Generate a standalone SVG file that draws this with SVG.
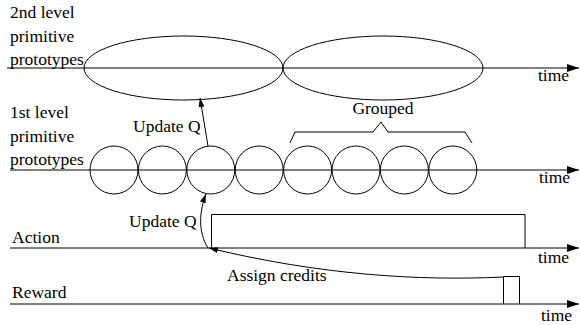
<svg xmlns="http://www.w3.org/2000/svg" width="580" height="325" viewBox="0 0 580 325">
<defs>
<marker id="axh" viewBox="0 0 12 8" refX="12" refY="4" markerWidth="12" markerHeight="8" markerUnits="userSpaceOnUse" orient="auto"><path d="M0,0 L12,4 L0,8 Z" fill="#000"/></marker>
<marker id="ah" viewBox="0 0 9 6" refX="9" refY="3" markerWidth="9" markerHeight="6" markerUnits="userSpaceOnUse" orient="auto"><path d="M0,0 L9,3 L0,6 Z" fill="#000"/></marker>
</defs>
<style>
text{font-family:"Liberation Serif","Times New Roman",serif;font-size:17.5px;fill:#000}
.ln{stroke:#000;stroke-width:1;fill:none}
.ax{stroke:#000;stroke-width:1;fill:none;marker-end:url(#axh)}
.ar{stroke:#000;stroke-width:1;fill:none;marker-end:url(#ah)}
</style>
<g id="axes">
<line class="ax" x1="7" y1="68" x2="579" y2="68"/>
<line class="ax" x1="10" y1="170" x2="579" y2="170"/>
<line class="ax" x1="10" y1="248" x2="579" y2="248"/>
<line class="ax" x1="10" y1="304" x2="579" y2="304"/>
<text x="538" y="81">time</text>
<text x="539" y="183">time</text>
<text x="538" y="263">time</text>
<text x="541" y="321">time</text>
</g>
<g id="labels">
<text x="10" y="18">2nd level</text>
<text x="10" y="42">primitive</text>
<text x="10" y="65">prototypes</text>
<text x="10" y="118">1st level</text>
<text x="10" y="142">primitive</text>
<text x="10" y="165">prototypes</text>
<text x="12" y="243">Action</text>
<text x="12" y="298">Reward</text>
</g>
<g id="level2">
<ellipse class="ln" cx="183.5" cy="68" rx="99.5" ry="32"/>
<ellipse class="ln" cx="383" cy="68" rx="100" ry="32"/>
</g>
<g id="level1">
<circle class="ln" cx="114" cy="170" r="24"/>
<circle class="ln" cx="162.4" cy="170" r="24"/>
<circle class="ln" cx="210.8" cy="170" r="24"/>
<circle class="ln" cx="259.2" cy="170" r="24"/>
<circle class="ln" cx="307.6" cy="170" r="24"/>
<circle class="ln" cx="356" cy="170" r="24"/>
<circle class="ln" cx="404.4" cy="170" r="24"/>
<circle class="ln" cx="452.8" cy="170" r="24"/>
</g>
<g id="grouped">
<path class="ln" d="M290,143 L295,132 L373,132 L381,122 L388,132 L465,132 L472,143"/>
<text x="383" y="114" text-anchor="middle">Grouped</text>
</g>
<g id="action">
<path class="ln" d="M211.5,248 L211.5,214.5 L525,214.5 L525,248"/>
</g>
<g id="reward">
<path class="ln" d="M503.5,304 L503.5,276.5 L519.5,276.5 L519.5,304"/>
</g>
<g id="connectors">
<line class="ar" x1="208" y1="146" x2="200" y2="98"/>
<path class="ar" d="M208,248 C198,232 199,212 206,194"/>
<path class="ar" d="M503,277 C420,281 320,275 209,248"/>
</g>
<g id="connector-labels">
<text x="133" y="132">Update Q</text>
<text x="129" y="227">Update Q</text>
<text x="227" y="281">Assign credits</text>
</g>
</svg>
